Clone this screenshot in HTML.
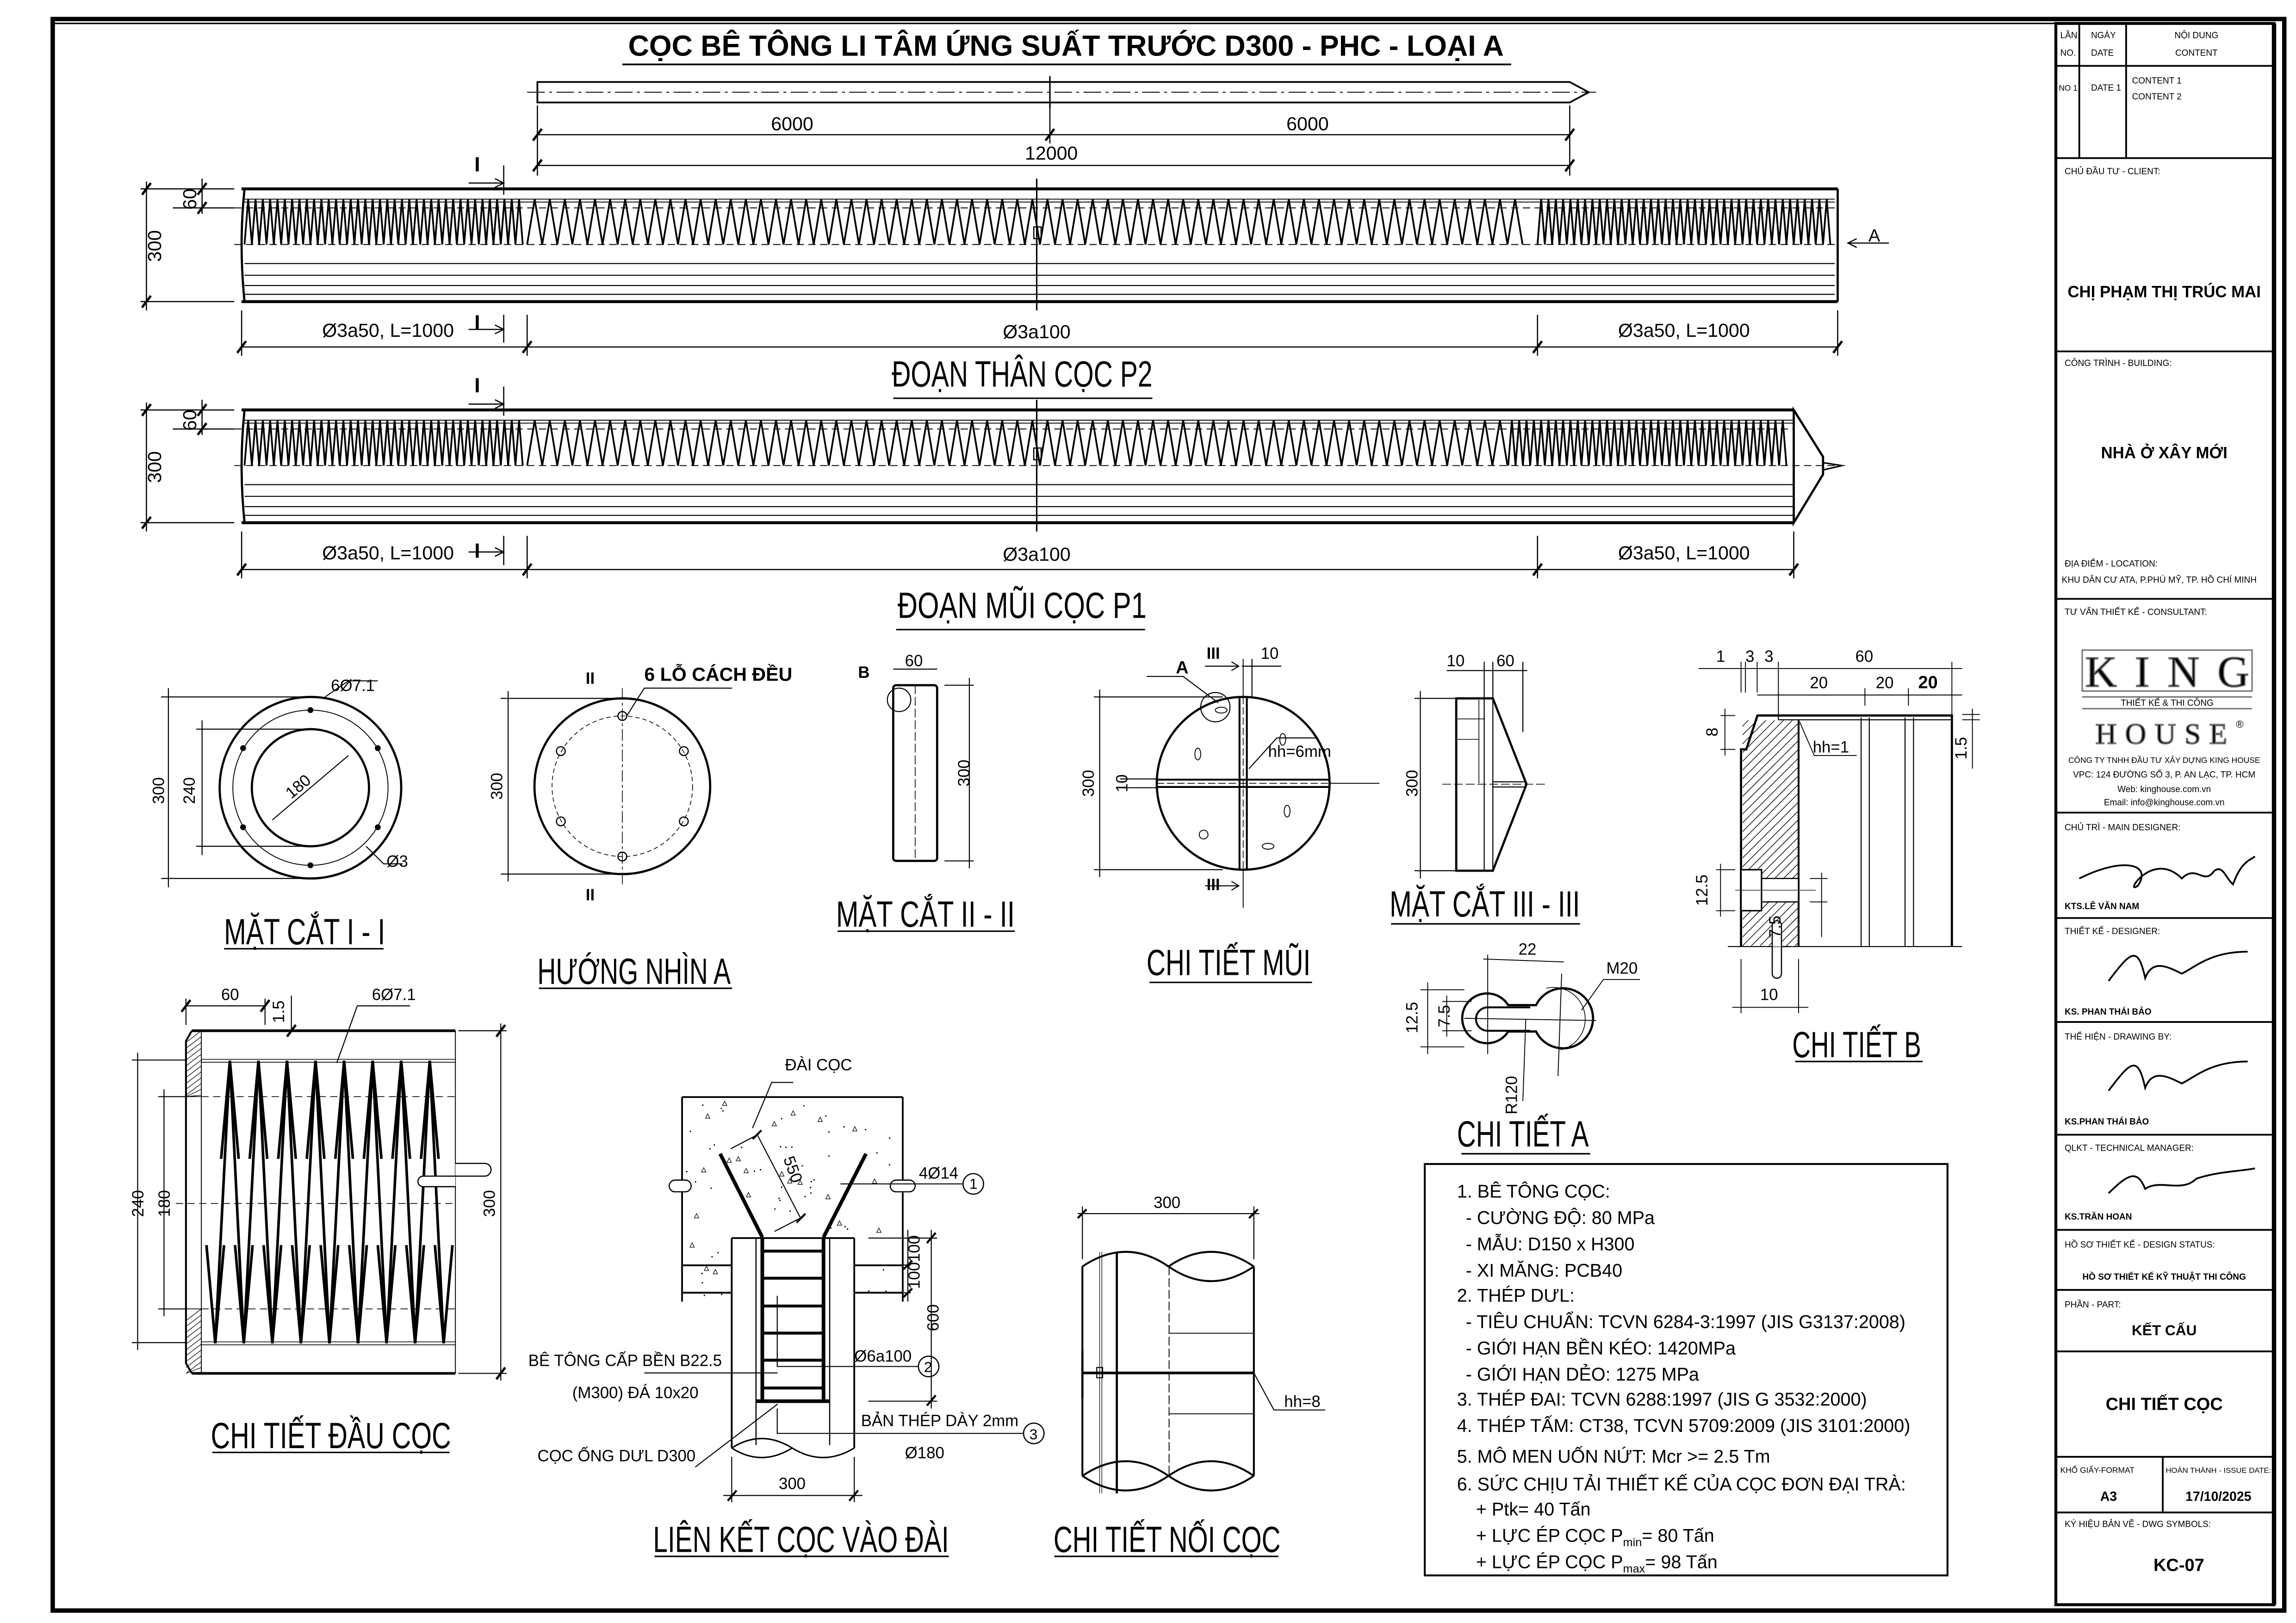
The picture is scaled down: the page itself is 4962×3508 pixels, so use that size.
<!DOCTYPE html>
<html><head><meta charset="utf-8"><style>
html,body{margin:0;padding:0;background:#fff}
svg{display:block}
text{font-family:"Liberation Sans Narrow","Liberation Sans",sans-serif;fill:#000}
.b{font-family:"Liberation Sans",sans-serif}
</style></head><body>
<svg id="s" xmlns="http://www.w3.org/2000/svg" width="4962" height="3508" viewBox="0 0 1568 1108.5" preserveAspectRatio="none">
<rect x="0" y="0" width="1568" height="1108.5" fill="#fff"/>
<g fill="none" stroke="#000">
<rect x="36" y="13" width="1524" height="1087" stroke-width="3"/>
<line x1="36" y1="16" x2="1404" y2="16" stroke-width="1"/>
<rect x="1404" y="16" width="149" height="1080" stroke-width="2"/>
<line x1="1553" y1="16" x2="1553" y2="1096" stroke-width="3"/>
<g stroke-width="1.2">
<line x1="1404" y1="45" x2="1553" y2="45"/>
<line x1="1420" y1="16" x2="1420" y2="108"/>
<line x1="1452" y1="16" x2="1452" y2="108"/>
<line x1="1404" y1="108" x2="1553" y2="108"/>
<line x1="1404" y1="240" x2="1553" y2="240"/>
<line x1="1404" y1="409" x2="1553" y2="409"/>
<line x1="1404" y1="555" x2="1553" y2="555"/>
<line x1="1404" y1="627" x2="1553" y2="627"/>
<line x1="1404" y1="698" x2="1553" y2="698"/>
<line x1="1404" y1="775" x2="1553" y2="775"/>
<line x1="1404" y1="840" x2="1553" y2="840"/>
<line x1="1404" y1="881" x2="1553" y2="881"/>
<line x1="1404" y1="923" x2="1553" y2="923"/>
<line x1="1404" y1="995" x2="1553" y2="995"/>
<line x1="1477" y1="995" x2="1477" y2="1033"/>
<line x1="1404" y1="1033" x2="1553" y2="1033"/>
</g>
<line x1="425" y1="44" x2="1032" y2="44" stroke-width="1.2"/>
<path d="M367 56 H1072 L1085 63 L1072 70 H367 Z" stroke-width="1.2"/>
<line x1="360" y1="63" x2="1090" y2="63" stroke-width="0.6" stroke-dasharray="12 3 2 3"/>
<line x1="717" y1="52" x2="717" y2="74" stroke-width="1"/>
<line x1="367" y1="92" x2="1072" y2="92" stroke-width="0.8"/>
<line x1="367" y1="113" x2="1072" y2="113" stroke-width="0.8"/>
<g stroke-width="0.8"><line x1="367" y1="72" x2="367" y2="120"/><line x1="717" y1="72" x2="717" y2="98"/><line x1="1072" y1="72" x2="1072" y2="120"/></g>
<g stroke-width="1.6"><line x1="364" y1="96" x2="370" y2="88"/><line x1="714" y1="96" x2="720" y2="88"/><line x1="1069" y1="96" x2="1075" y2="88"/><line x1="364" y1="117" x2="370" y2="109"/><line x1="1069" y1="117" x2="1075" y2="109"/></g>
<!-- P2 -->
<line x1="165" y1="129" x2="1255" y2="129" stroke-width="2"/>
<line x1="165" y1="206" x2="1255" y2="206" stroke-width="2"/>
<path d="M167 129 Q163 167 167 206" stroke-width="1.5"/>
<line x1="1255" y1="129" x2="1255" y2="206" stroke-width="1.5"/>
<line x1="167" y1="136" x2="1253" y2="136" stroke-width="0.6"/>
<line x1="167" y1="138" x2="1253" y2="138" stroke-width="0.6"/>
<line x1="160" y1="142" x2="1253" y2="142" stroke-width="0.6" stroke-dasharray="5 3"/>
<line x1="160" y1="167" x2="1253" y2="167" stroke-width="0.6" stroke-dasharray="5 3"/>
<line x1="167" y1="180" x2="1253" y2="180" stroke-width="0.7"/>
<line x1="167" y1="188" x2="1253" y2="188" stroke-width="0.7"/>
<line x1="167" y1="195" x2="1253" y2="195" stroke-width="0.7"/>
<line x1="167" y1="201" x2="1253" y2="201" stroke-width="0.7"/>
<line x1="708" y1="122" x2="708" y2="212" stroke-width="1"/>
<rect x="706" y="155" width="5" height="8" stroke-width="0.8"/>
<g stroke-width="0.8">
<line x1="96" y1="129" x2="160" y2="129"/><line x1="96" y1="206" x2="160" y2="206"/><line x1="118" y1="142" x2="160" y2="142"/>
<line x1="100" y1="124" x2="100" y2="212"/><line x1="138" y1="122" x2="138" y2="146"/>
<line x1="165" y1="237" x2="1255" y2="237"/>
<line x1="165" y1="212" x2="165" y2="243"/><line x1="360" y1="215" x2="360" y2="243"/><line x1="1050" y1="215" x2="1050" y2="243"/><line x1="1255" y1="212" x2="1255" y2="243"/>
<line x1="344" y1="113" x2="344" y2="133"/><line x1="344" y1="215" x2="344" y2="234"/>
<path d="M320 125 H344 M338 122 L344 125 L338 128"/><path d="M320 225 H344 M338 222 L344 225 L338 228"/>
<path d="M1262 166 H1290 M1268 163 L1262 166 L1268 169"/>
</g>
<g stroke-width="1.6"><line x1="97" y1="133" x2="103" y2="125"/><line x1="97" y1="210" x2="103" y2="202"/><line x1="135" y1="133" x2="141" y2="125"/><line x1="135" y1="146" x2="141" y2="138"/>
<line x1="162" y1="241" x2="168" y2="233"/><line x1="357" y1="241" x2="363" y2="233"/><line x1="1047" y1="241" x2="1053" y2="233"/><line x1="1252" y1="241" x2="1258" y2="233"/></g>
<!-- P1 -->
<line x1="165" y1="280" x2="1225" y2="280" stroke-width="2"/>
<line x1="165" y1="357" x2="1225" y2="357" stroke-width="2"/>
<path d="M167 280 Q163 318 167 357" stroke-width="1.5"/>
<path d="M1225 280 L1245 312 L1245 324 L1225 357 Z" stroke-width="1.5"/>
<path d="M1245 316 L1258 318 L1245 321" stroke-width="1"/>
<line x1="167" y1="287" x2="1225" y2="287" stroke-width="0.6"/>
<line x1="167" y1="289" x2="1225" y2="289" stroke-width="0.6"/>
<line x1="160" y1="293" x2="1225" y2="293" stroke-width="0.6" stroke-dasharray="5 3"/>
<line x1="160" y1="318" x2="1260" y2="318" stroke-width="0.6" stroke-dasharray="5 3"/>
<line x1="167" y1="331" x2="1225" y2="331" stroke-width="0.7"/>
<line x1="167" y1="339" x2="1225" y2="339" stroke-width="0.7"/>
<line x1="167" y1="346" x2="1225" y2="346" stroke-width="0.7"/>
<line x1="167" y1="352" x2="1225" y2="352" stroke-width="0.7"/>
<line x1="708" y1="273" x2="708" y2="363" stroke-width="1"/>
<rect x="706" y="306" width="5" height="8" stroke-width="0.8"/>
<g stroke-width="0.8">
<line x1="96" y1="280" x2="160" y2="280"/><line x1="96" y1="357" x2="160" y2="357"/><line x1="118" y1="293" x2="160" y2="293"/>
<line x1="100" y1="275" x2="100" y2="363"/><line x1="138" y1="273" x2="138" y2="297"/>
<line x1="165" y1="389" x2="1225" y2="389"/>
<line x1="165" y1="363" x2="165" y2="395"/><line x1="360" y1="366" x2="360" y2="395"/><line x1="1050" y1="366" x2="1050" y2="395"/><line x1="1225" y1="363" x2="1225" y2="395"/>
<line x1="344" y1="264" x2="344" y2="284"/><line x1="344" y1="366" x2="344" y2="386"/>
<path d="M320 276 H344 M338 273 L344 276 L338 279"/><path d="M320 377 H344 M338 374 L344 377 L338 380"/>
</g>
<g stroke-width="1.6"><line x1="97" y1="284" x2="103" y2="276"/><line x1="97" y1="361" x2="103" y2="353"/><line x1="135" y1="284" x2="141" y2="276"/><line x1="135" y1="297" x2="141" y2="289"/>
<line x1="162" y1="393" x2="168" y2="385"/><line x1="357" y1="393" x2="363" y2="385"/><line x1="1047" y1="393" x2="1053" y2="385"/><line x1="1222" y1="393" x2="1228" y2="385"/></g>
<line x1="610" y1="272" x2="787" y2="272" stroke-width="1"/>
<line x1="612" y1="430" x2="782" y2="430" stroke-width="1"/>

<!-- Mat cat I-I -->
<circle cx="212" cy="538" r="62" stroke-width="1.5"/>
<circle cx="212" cy="538" r="40" stroke-width="1.5"/>
<circle cx="212" cy="538" r="53" stroke-width="0.6"/>
<g fill="#000" stroke="none"><circle cx="212" cy="485" r="2"/><circle cx="258" cy="511" r="2"/><circle cx="258" cy="565" r="2"/><circle cx="212" cy="591" r="2"/><circle cx="166" cy="565" r="2"/><circle cx="166" cy="511" r="2"/></g>
<line x1="186" y1="560" x2="238" y2="516" stroke-width="0.7"/>
<g stroke-width="0.7"><line x1="110" y1="476" x2="212" y2="476"/><line x1="110" y1="600" x2="212" y2="600"/><line x1="115" y1="470" x2="115" y2="606"/>
<line x1="134" y1="498" x2="212" y2="498"/><line x1="134" y1="578" x2="212" y2="578"/><line x1="138" y1="492" x2="138" y2="584"/>
<path d="M222 476 L238 465 H258"/><path d="M250 578 L262 590 H275"/></g>
<line x1="153" y1="648" x2="262" y2="648" stroke-width="1"/>
<!-- Huong nhin A -->
<circle cx="425" cy="537" r="60" stroke-width="1.5"/>
<circle cx="425" cy="537" r="48" stroke-width="0.5" stroke-dasharray="3 2"/>
<g stroke-width="0.8"><circle cx="425" cy="489" r="3"/><circle cx="467" cy="513" r="3"/><circle cx="467" cy="561" r="3"/><circle cx="425" cy="585" r="3"/><circle cx="383" cy="561" r="3"/><circle cx="383" cy="513" r="3"/></g>
<line x1="425" y1="470" x2="425" y2="604" stroke-width="0.5" stroke-dasharray="8 2 2 2"/>
<g stroke-width="0.7"><line x1="342" y1="477" x2="425" y2="477"/><line x1="342" y1="597" x2="425" y2="597"/><line x1="347" y1="472" x2="347" y2="602"/><path d="M428 489 L440 470 H500"/></g>
<line x1="368" y1="675" x2="500" y2="675" stroke-width="1"/>
<!-- Mat cat II-II -->
<rect x="610" y="468" width="30" height="120" rx="2" stroke-width="1.5"/>
<line x1="625" y1="468" x2="625" y2="588" stroke-width="0.5" stroke-dasharray="6 2"/>
<circle cx="614" cy="478" r="8" stroke-width="0.7"/>
<g stroke-width="0.7"><line x1="610" y1="457" x2="640" y2="457"/><line x1="645" y1="468" x2="665" y2="468"/><line x1="645" y1="588" x2="665" y2="588"/><line x1="662" y1="463" x2="662" y2="593"/></g>
<line x1="572" y1="636" x2="693" y2="636" stroke-width="1"/>
<!-- Chi tiet mui -->
<circle cx="849" cy="535" r="59" stroke-width="1.5"/>
<rect x="790" y="532.5" width="118" height="5" stroke-width="1.3"/>
<rect x="846.5" y="476" width="5" height="118" stroke-width="1.3"/>
<line x1="790" y1="535" x2="908" y2="535" stroke-width="0.5" stroke-dasharray="5 2"/>
<line x1="849" y1="476" x2="849" y2="594" stroke-width="0.5" stroke-dasharray="5 2"/>
<line x1="908" y1="535" x2="942" y2="535" stroke-width="0.6"/>
<line x1="849" y1="594" x2="849" y2="620" stroke-width="0.6"/>
<line x1="849" y1="450" x2="849" y2="476" stroke-width="0.6"/>
<circle cx="830" cy="483" r="10" stroke-width="0.7"/>
<g stroke-width="0.6"><ellipse cx="834" cy="485" rx="4" ry="2"/><ellipse cx="876" cy="505" rx="2" ry="4"/><ellipse cx="818" cy="515" rx="2" ry="4"/><ellipse cx="879" cy="554" rx="2" ry="4"/><ellipse cx="822" cy="570" rx="3" ry="3"/><ellipse cx="866" cy="578" rx="4" ry="2"/></g>
<g stroke-width="0.7"><line x1="747" y1="476" x2="835" y2="476"/><line x1="747" y1="594" x2="835" y2="594"/><line x1="751" y1="471" x2="751" y2="599"/>
<line x1="848" y1="455" x2="875" y2="455"/><line x1="855" y1="450" x2="855" y2="476"/>
<path d="M823 455 H846 M841 452 L846 455 L841 458"/><path d="M823 605 H846 M841 602 L846 605 L841 608"/>
<path d="M783 462 H808 L832 480"/><path d="M853 525 L872 504 H900"/>
<line x1="765" y1="532" x2="790" y2="532"/><line x1="765" y1="538" x2="790" y2="538"/></g>
<line x1="785" y1="671" x2="896" y2="671" stroke-width="1"/>
<!-- Mat cat III-III -->
<path d="M994.5 477 H1019.5 L1042.5 535.6 L1019.5 594.7 H994.5 Z" stroke-width="1.5"/>
<line x1="1013.6" y1="477" x2="1013.6" y2="594.7" stroke-width="0.7"/>
<line x1="1019.5" y1="477" x2="1019.5" y2="594.7" stroke-width="0.7"/>
<line x1="1010" y1="478" x2="1010" y2="535" stroke-width="0.5"/>
<line x1="1019.5" y1="534" x2="1042" y2="534" stroke-width="0.7"/><line x1="1019.5" y1="537.5" x2="1042" y2="537.5" stroke-width="0.7"/>
<line x1="994.5" y1="491" x2="1014" y2="491" stroke-width="0.5"/>
<line x1="994.5" y1="505" x2="1010" y2="505" stroke-width="0.5"/>
<line x1="985" y1="535.6" x2="1055" y2="535.6" stroke-width="0.5" stroke-dasharray="6 2"/>
<g stroke-width="0.7"><line x1="966" y1="477" x2="994" y2="477"/><line x1="966" y1="594.7" x2="994" y2="594.7"/><line x1="970" y1="472" x2="970" y2="600"/>
<line x1="988" y1="458" x2="1043" y2="458"/><line x1="1013.6" y1="452" x2="1013.6" y2="477"/><line x1="1019.5" y1="452" x2="1019.5" y2="477"/><line x1="1040" y1="452" x2="1040" y2="500"/></g>
<line x1="950" y1="631" x2="1079" y2="631" stroke-width="1"/>
<!-- Chi tiet A -->
<path d="M1030 686.5 A17 17 0 1 0 1030 704.5 L1049 704.5 A20.5 20.5 0 1 0 1049 686.5 Z" stroke-width="1.5"/>
<path d="M1045 688 H1016 A8 8 0 0 0 1016 704 H1045" stroke-width="1.3"/>
<path d="M1056 675 A21.5 21.5 0 0 1 1066 717" stroke-width="0.5"/>
<g stroke-width="0.6"><line x1="1013" y1="655" x2="1068" y2="657"/><line x1="1016" y1="652" x2="1016" y2="720"/><line x1="1066.5" y1="665" x2="1064" y2="735"/>
<line x1="1000" y1="695.5" x2="1090" y2="697"/>
<line x1="970" y1="676" x2="1000" y2="676"/><line x1="970" y1="715" x2="1000" y2="715"/><line x1="975" y1="671" x2="975" y2="720"/>
<line x1="985" y1="684" x2="1005" y2="684"/><line x1="985" y1="704" x2="1005" y2="704"/><line x1="988" y1="680" x2="988" y2="708"/>
<path d="M1080 690 L1095 669 H1120"/><path d="M1042 696 L1040 752"/></g>
<line x1="998" y1="788" x2="1086" y2="788" stroke-width="1"/>
<!-- Chi tiet B -->
<path d="M1189 646.5 V511.8 H1192.6 L1200.2 488.7 H1333 V646.5" stroke-width="1.5"/>
<line x1="1180" y1="646.5" x2="1340" y2="646.5" stroke-width="0.7"/>
<line x1="1228.3" y1="491.6" x2="1228.3" y2="646.5" stroke-width="1.3"/>
<line x1="1214.5" y1="491.6" x2="1333" y2="491.6" stroke-width="0.7"/>
<line x1="1214.5" y1="488.7" x2="1214.5" y2="491.6" stroke-width="0.7"/>
<g stroke-width="0.7"><line x1="1271" y1="490" x2="1271" y2="646.5"/><line x1="1276.6" y1="490" x2="1276.6" y2="646.5"/><line x1="1301" y1="490" x2="1301" y2="646.5"/><line x1="1306.8" y1="490" x2="1306.8" y2="646.5"/></g>
<g id="hatch" stroke-width="0.45"></g>
<rect x="1189" y="594" width="14" height="28" fill="#fff" stroke-width="1"/>
<rect x="1203.5" y="600.5" width="24.3" height="15" fill="#fff" stroke="none"/>
<path d="M1203 600 H1228.3 M1203 616 H1228.3" stroke-width="0.8"/>
<line x1="1185" y1="608" x2="1240" y2="608" stroke-width="0.4"/>
<path d="M1210.3 646.5 V632 A3.1 3.1 0 0 1 1216.6 632 V646.5" fill="#fff" stroke-width="0.8"/>
<path d="M1216.6 646.5 H1222 M1216.6 646.5 V665 A3.1 3.1 0 0 1 1210.3 665 V646.5" stroke-width="0.8"/>
<g stroke-width="0.6"><line x1="1160" y1="456.6" x2="1340" y2="456.6"/><line x1="1200" y1="474.7" x2="1340" y2="474.7"/>
<line x1="1189" y1="452" x2="1189" y2="473"/><line x1="1192" y1="452" x2="1192" y2="473"/><line x1="1200" y1="452" x2="1200" y2="473"/><line x1="1214.5" y1="452" x2="1214.5" y2="488"/><line x1="1333" y1="452" x2="1333" y2="488"/><line x1="1273.6" y1="470" x2="1273.6" y2="482"/><line x1="1303.3" y1="470" x2="1303.3" y2="482"/>
<line x1="1175" y1="488.7" x2="1185" y2="488.7"/><line x1="1175" y1="511.8" x2="1185" y2="511.8"/><line x1="1178" y1="484" x2="1178" y2="516"/>
<line x1="1172" y1="594" x2="1185" y2="594"/><line x1="1172" y1="622" x2="1185" y2="622"/><line x1="1175" y1="590" x2="1175" y2="626"/>
<line x1="1236" y1="600" x2="1248" y2="600"/><line x1="1236" y1="616" x2="1248" y2="616"/><line x1="1244" y1="596" x2="1244" y2="640"/>
<line x1="1189" y1="655" x2="1189" y2="692"/><line x1="1228.3" y1="655" x2="1228.3" y2="692"/><line x1="1183" y1="688" x2="1235" y2="688"/>
<line x1="1340" y1="488" x2="1352" y2="488"/><line x1="1340" y1="491.6" x2="1352" y2="491.6"/><line x1="1347" y1="484" x2="1347" y2="525"/>
<path d="M1229 493 L1239 516 H1268"/></g>
<line x1="1226" y1="725" x2="1313" y2="725" stroke-width="1"/>
<!-- Chi tiet dau coc -->
<line x1="131" y1="704" x2="311" y2="704" stroke-width="1.8"/>
<line x1="131" y1="938" x2="311" y2="938" stroke-width="1.8"/>
<path d="M131 704 L127 711 L127 931 L131 938" stroke-width="1.3"/>
<line x1="137.5" y1="704" x2="137.5" y2="938" stroke-width="0.6"/>
<line x1="311" y1="704" x2="311" y2="938" stroke-width="0.6"/>
<g id="headhatch" stroke-width="0.4"></g>
<line x1="127" y1="749" x2="137.5" y2="749" stroke-width="0.5"/><line x1="127" y1="894" x2="137.5" y2="894" stroke-width="0.5"/>
<line x1="137.5" y1="723.5" x2="311" y2="723.5" stroke-width="0.5"/><line x1="137.5" y1="725.5" x2="311" y2="725.5" stroke-width="0.5"/>
<line x1="137.5" y1="916.5" x2="311" y2="916.5" stroke-width="0.5"/><line x1="137.5" y1="918.5" x2="311" y2="918.5" stroke-width="0.5"/>
<line x1="137.5" y1="749" x2="311" y2="749" stroke-width="0.5" stroke-dasharray="5 3"/>
<line x1="120" y1="822" x2="311" y2="822" stroke-width="0.5" stroke-dasharray="5 3"/>
<line x1="137.5" y1="894" x2="311" y2="894" stroke-width="0.5" stroke-dasharray="5 3"/>
<g id="headzz" stroke-width="1.8"></g>
<path d="M311 794.6 H331 A4.3 4.3 0 0 1 331 803.3 H311" fill="#fff" stroke-width="0.8"/>
<path d="M311 803.3 H289 A3.6 3.6 0 0 0 289 810.5 H311" fill="#fff" stroke-width="0.8"/>
<g stroke-width="0.7"><line x1="90" y1="724" x2="127" y2="724"/><line x1="90" y1="917" x2="127" y2="917"/><line x1="94" y1="719" x2="94" y2="922"/>
<line x1="108" y1="749" x2="127" y2="749"/><line x1="108" y1="894" x2="127" y2="894"/><line x1="112" y1="744" x2="112" y2="899"/>
<line x1="313" y1="704" x2="346" y2="704"/><line x1="313" y1="938" x2="346" y2="938"/><line x1="342" y1="699" x2="342" y2="943"/>
<line x1="127" y1="687" x2="181" y2="687"/><line x1="127" y1="682" x2="127" y2="700"/><line x1="181" y1="682" x2="181" y2="700"/><line x1="199" y1="680" x2="199" y2="704"/>
<path d="M230 726 L244 687 H280"/></g>
<g stroke-width="1.6"><line x1="124" y1="691" x2="130" y2="683"/><line x1="178" y1="691" x2="184" y2="683"/><line x1="339" y1="708" x2="345" y2="700"/><line x1="339" y1="942" x2="345" y2="934"/><line x1="196" y1="708" x2="202" y2="700"/></g>
<line x1="145" y1="992" x2="307" y2="992" stroke-width="1"/>
<!-- Lien ket coc vao dai -->
<g stroke-width="1.2">
<line x1="465.8" y1="749.3" x2="616.5" y2="749.3"/>
<line x1="465.8" y1="749.3" x2="465.8" y2="806"/><line x1="465.8" y1="814" x2="465.8" y2="889"/>
<line x1="616.5" y1="749.3" x2="616.5" y2="806"/><line x1="616.5" y1="814" x2="616.5" y2="889"/>
<line x1="465.8" y1="864.2" x2="499.7" y2="864.2"/><line x1="465.8" y1="882.9" x2="499.7" y2="882.9"/>
<line x1="583.4" y1="864.2" x2="616.5" y2="864.2"/><line x1="583.4" y1="882.9" x2="616.5" y2="882.9"/>
<line x1="499.7" y1="845.6" x2="583.4" y2="845.6"/>
<line x1="499.7" y1="845.6" x2="499.7" y2="989"/><line x1="583.4" y1="845.6" x2="583.4" y2="989"/>
</g>
<path d="M461 806 H468 A4 4 0 0 1 468 814 H461 A4 4 0 0 1 461 806" stroke-width="0.8"/>
<path d="M612 806 H621 A4 4 0 0 1 621 814 H612 A4 4 0 0 1 612 806" stroke-width="0.8"/>
<line x1="516.3" y1="845.6" x2="516.3" y2="987" stroke-width="0.8"/><line x1="566.6" y1="845.6" x2="566.6" y2="987" stroke-width="0.8"/>
<path d="M499.7 989 Q520 976 541 989 Q562 1002 583.4 989" stroke-width="1"/>
<path d="M499.7 989 Q520 1002 541 989" stroke-width="1"/>
<g stroke-width="2.5"><line x1="491.8" y1="788" x2="520.6" y2="845"/><line x1="591.4" y1="788" x2="562.4" y2="845"/>
<line x1="520.6" y1="845" x2="520.6" y2="957"/><line x1="562.4" y1="845" x2="562.4" y2="957"/>
<line x1="516.3" y1="957" x2="566.6" y2="957"/></g>
<g stroke-width="2"><line x1="521" y1="854.5" x2="562" y2="854.5"/><line x1="521" y1="873" x2="562" y2="873"/><line x1="521" y1="892" x2="562" y2="892"/><line x1="521" y1="910.5" x2="562" y2="910.5"/><line x1="521" y1="929" x2="562" y2="929"/><line x1="521" y1="948" x2="562" y2="948"/></g>
<g stroke-width="0.7">
<path d="M574 808.6 H657.7"/>
<path d="M541.7 739.3 H527 L513.9 770.5"/>
<line x1="517.2" y1="775.1" x2="546.7" y2="831.9"/><line x1="499" y1="784.6" x2="517.2" y2="775.1"/><line x1="529" y1="841" x2="546.7" y2="831.9"/>
<line x1="593" y1="845.6" x2="640" y2="845.6"/><line x1="593" y1="957" x2="640" y2="957"/><line x1="636" y1="840" x2="636" y2="962"/>
<line x1="593" y1="864" x2="622" y2="864"/><line x1="593" y1="883" x2="622" y2="883"/><line x1="620" y1="840" x2="620" y2="889"/>
<path d="M530.8 885 V933.3 H627"/><path d="M530.8 962 V979 H699"/>
<path d="M440 937.7 H531"/><path d="M474.8 1002 L531 959"/>
<line x1="499.7" y1="995" x2="499.7" y2="1026"/><line x1="583.4" y1="995" x2="583.4" y2="1026"/><line x1="494" y1="1021.4" x2="589" y2="1021.4"/>
</g>
<g stroke-width="1.4"><line x1="633" y1="849" x2="639" y2="842"/><line x1="633" y1="960" x2="639" y2="953"/><line x1="617" y1="867" x2="623" y2="861"/><line x1="617" y1="886" x2="623" y2="880"/><line x1="497" y1="1025" x2="503" y2="1018"/><line x1="580" y1="1025" x2="586" y2="1018"/><line x1="514" y1="778" x2="520" y2="772"/><line x1="544" y1="835" x2="550" y2="829"/></g>
<circle cx="664.7" cy="808.6" r="7" stroke-width="0.8"/>
<circle cx="634.2" cy="933.3" r="7" stroke-width="0.8"/>
<circle cx="706" cy="979" r="7" stroke-width="0.8"/>
<line x1="447" y1="1063" x2="648" y2="1063" stroke-width="1"/>
<!-- Chi tiet noi coc -->
<g stroke-width="1.3">
<line x1="739.2" y1="865" x2="739.2" y2="1008"/><line x1="856.3" y1="865" x2="856.3" y2="1008"/>
<path d="M739.2 865 Q769 845 798 865 Q827 845 856.3 865"/>
<path d="M798 865 Q827 885 856.3 865"/>
<path d="M739.2 1008 Q769 988 798 1008 Q827 988 856.3 1008"/>
<path d="M739.2 1008 Q769 1028 798 1008 Q827 1028 856.3 1008"/>
<line x1="739.2" y1="937.7" x2="856.3" y2="937.7" stroke-width="1.8"/>
</g>
<line x1="762.7" y1="855" x2="762.7" y2="1020" stroke-width="1.5"/>
<line x1="798.4" y1="865" x2="798.4" y2="1008" stroke-width="0.6" stroke-dasharray="6 2"/>
<line x1="751" y1="855" x2="751" y2="1020" stroke-width="0.4"/>
<line x1="752.5" y1="855" x2="752.5" y2="1020" stroke-width="0.4"/>
<line x1="798.4" y1="910.6" x2="856.3" y2="910.6" stroke-width="0.6"/><line x1="798.4" y1="965.6" x2="856.3" y2="965.6" stroke-width="0.6"/>
<rect x="749" y="934" width="4" height="7" stroke-width="0.7"/>
<line x1="739.2" y1="922" x2="739.2" y2="955" stroke-width="1.5"/>
<g stroke-width="0.7"><line x1="736" y1="828.9" x2="860" y2="828.9"/><line x1="739.2" y1="824" x2="739.2" y2="860"/><line x1="856.3" y1="824" x2="856.3" y2="860"/><path d="M856.3 937.7 L870 963 H905"/></g>
<g stroke-width="1.4"><line x1="736" y1="832" x2="742" y2="826"/><line x1="853" y1="832" x2="859" y2="826"/></g>
<line x1="720" y1="1063" x2="873" y2="1063" stroke-width="1"/>
<rect x="973" y="795" width="357" height="281" stroke-width="1.3"/>
</g>

<!-- TEXT -->
<text x="728" y="38" text-anchor="middle" class="b" font-size="20" font-weight="bold" textLength="598" lengthAdjust="spacingAndGlyphs">CỌC BÊ TÔNG LI TÂM ỨNG SUẤT TRƯỚC D300 - PHC - LOẠI A</text>
<g font-size="13" text-anchor="middle">
<text x="541" y="89" class="b">6000</text><text x="893" y="89" class="b">6000</text><text x="718" y="109" class="b">12000</text>
</g>
<g font-size="13">
<text x="265" y="230" text-anchor="middle" class="b">Ø3a50, L=1000</text><text x="708" y="231" text-anchor="middle" class="b">Ø3a100</text><text x="1150" y="230" text-anchor="middle" class="b">Ø3a50, L=1000</text>
<text x="265" y="382" text-anchor="middle" class="b">Ø3a50, L=1000</text><text x="708" y="383" text-anchor="middle" class="b">Ø3a100</text><text x="1150" y="382" text-anchor="middle" class="b">Ø3a50, L=1000</text>
<text transform="translate(110 168) rotate(-90)" text-anchor="middle" class="b">300</text>
<text transform="translate(134 136) rotate(-90)" text-anchor="middle" class="b">60</text>
<text transform="translate(110 319) rotate(-90)" text-anchor="middle" class="b">300</text>
<text transform="translate(134 287) rotate(-90)" text-anchor="middle" class="b">60</text>
<text x="1276" y="165" class="b" font-size="12">A</text>
</g>
<g font-size="14" font-weight="bold"><text x="324" y="117" class="b">I</text><text x="324" y="225" class="b">I</text><text x="324" y="268" class="b">I</text><text x="324" y="381" class="b">I</text></g>
<text x="698" y="264" text-anchor="middle" font-size="25" textLength="178" lengthAdjust="spacingAndGlyphs">ĐOẠN THÂN CỌC P2</text>
<text x="698" y="422" text-anchor="middle" font-size="25" textLength="170" lengthAdjust="spacingAndGlyphs">ĐOẠN MŨI CỌC P1</text>

<g font-size="11">
<text transform="translate(112 540) rotate(-90)" text-anchor="middle">300</text>
<text transform="translate(133 540) rotate(-90)" text-anchor="middle">240</text>
<text transform="translate(206 540) rotate(-40)" text-anchor="middle">180</text>
<text x="226" y="472" fill="#666">6Ø7.1</text><text x="264" y="592" fill="#666">Ø3</text>
<text transform="translate(343 537) rotate(-90)" text-anchor="middle">300</text>
<text x="400" y="467" font-weight="bold">II</text><text x="400" y="615" font-weight="bold">II</text>
<text x="618" y="455">60</text><text x="586" y="463" font-weight="bold">B</text>
<text transform="translate(662 528) rotate(-90)" text-anchor="middle">300</text>
<text x="824" y="450" font-weight="bold">III</text><text x="824" y="608" font-weight="bold">III</text>
<text x="861" y="450">10</text><text x="803" y="460" font-weight="bold" font-size="12">A</text>
<text transform="translate(747 535) rotate(-90)" text-anchor="middle">300</text>
<text transform="translate(770 535) rotate(-90)" text-anchor="middle">10</text>
<text x="866" y="517" fill="#666">hh=6mm</text>
<text x="988" y="455">10</text><text x="1022" y="455">60</text>
<text transform="translate(968 535) rotate(-90)" text-anchor="middle">300</text>
<text x="1037" y="652">22</text><text x="1097" y="665" fill="#666">M20</text>
<text transform="translate(1036 748) rotate(-90)" text-anchor="middle" fill="#666">R120</text>
<text transform="translate(968 695) rotate(-90)" text-anchor="middle">12.5</text>
<text transform="translate(990 694) rotate(-90)" text-anchor="middle">7.5</text>
<text x="1172" y="452">1</text><text x="1192" y="452">3</text><text x="1205" y="452">3</text><text x="1267" y="452">60</text>
<text x="1236" y="470">20</text><text x="1281" y="470">20</text><text x="1310" y="470" font-size="12" font-weight="bold">20</text>
<text transform="translate(1173 500) rotate(-90)" text-anchor="middle">8</text>
<text transform="translate(1343 511) rotate(-90)" text-anchor="middle">1.5</text>
<text transform="translate(1166 608) rotate(-90)" text-anchor="middle">12.5</text>
<text transform="translate(1216 633) rotate(-90)" text-anchor="middle">7.5</text>
<text x="1202" y="683">10</text><text x="1238" y="514" fill="#666">hh=1</text>
<text transform="translate(98 822) rotate(-90)" text-anchor="middle">240</text>
<text transform="translate(116 822) rotate(-90)" text-anchor="middle">180</text>
<text transform="translate(338 822) rotate(-90)" text-anchor="middle">300</text>
<text x="151" y="683">60</text><text transform="translate(194 691) rotate(-90)" text-anchor="middle">1.5</text>
<text x="254" y="683" fill="#666">6Ø7.1</text>
<text x="559" y="731" text-anchor="middle">ĐÀI CỌC</text>
<text transform="translate(538 800) rotate(70)" text-anchor="middle">550</text>
<text x="641" y="805" text-anchor="middle">4Ø14</text><text x="662" y="812" font-size="10">1</text>
<text transform="translate(628 862) rotate(-90)" text-anchor="middle">100100</text>
<text transform="translate(641 900) rotate(-90)" text-anchor="middle">600</text>
<text x="603" y="930" text-anchor="middle">Ø6a100</text><text x="631" y="937" font-size="10">2</text>
<text x="493" y="933" text-anchor="end">BÊ TÔNG CẤP BỀN B22.5</text>
<text x="477" y="955" text-anchor="end">(M300) ĐÁ 10x20</text>
<text x="588" y="974">BẢN THÉP DÀY 2mm</text><text x="703" y="983" font-size="10">3</text>
<text x="618" y="996">Ø180</text>
<text x="475" y="998" text-anchor="end">CỌC ỐNG DƯL D300</text>
<text x="541" y="1017" text-anchor="middle">300</text>
<text x="797" y="825" text-anchor="middle">300</text><text x="877" y="961" fill="#666">hh=8</text>
</g>
<text x="440" y="465" font-size="13" font-weight="bold" class="b">6 LỖ CÁCH ĐỀU</text>
<g font-size="25">
<text x="208" y="645" text-anchor="middle" textLength="110" lengthAdjust="spacingAndGlyphs">MẶT CẮT I - I</text>
<text x="433" y="672" text-anchor="middle" textLength="132" lengthAdjust="spacingAndGlyphs">HƯỚNG NHÌN A</text>
<text x="632" y="633" text-anchor="middle" textLength="122" lengthAdjust="spacingAndGlyphs">MẶT CẮT  II - II</text>
<text x="839" y="666" text-anchor="middle" textLength="112" lengthAdjust="spacingAndGlyphs">CHI  TIẾT MŨI</text>
<text x="1014" y="626" text-anchor="middle" textLength="130" lengthAdjust="spacingAndGlyphs">MẶT CẮT  III - III</text>
<text x="1040" y="783" text-anchor="middle" textLength="90" lengthAdjust="spacingAndGlyphs">CHI  TIẾT A</text>
<text x="1268" y="722" text-anchor="middle" textLength="88" lengthAdjust="spacingAndGlyphs">CHI  TIẾT B</text>
<text x="226" y="989" text-anchor="middle" textLength="164" lengthAdjust="spacingAndGlyphs">CHI  TIẾT ĐẦU CỌC</text>
<text x="547" y="1060" text-anchor="middle" textLength="202" lengthAdjust="spacingAndGlyphs">LIÊN KẾT CỌC VÀO ĐÀI</text>
<text x="797" y="1060" text-anchor="middle" textLength="155" lengthAdjust="spacingAndGlyphs">CHI  TIẾT NỐI CỌC</text>
</g>
<g font-size="12.5">
<text x="995" y="818" class="b">1.   BÊ TÔNG CỌC:</text>
<text x="1001" y="836" class="b">- CƯỜNG ĐỘ: 80 MPa</text>
<text x="1001" y="854" class="b">- MẪU: D150 x H300</text>
<text x="1001" y="872" class="b">- XI MĂNG: PCB40</text>
<text x="995" y="889" class="b">2.  THÉP DƯL:</text>
<text x="1001" y="907" class="b">- TIÊU CHUẨN: TCVN 6284-3:1997 (JIS G3137:2008)</text>
<text x="1001" y="925" class="b">- GIỚI HẠN BỀN KÉO: 1420MPa</text>
<text x="1001" y="943" class="b">- GIỚI HẠN DẺO: 1275 MPa</text>
<text x="995" y="960" class="b">3.  THÉP ĐAI: TCVN 6288:1997 (JIS G 3532:2000)</text>
<text x="995" y="978" class="b">4.  THÉP TẤM: CT38, TCVN 5709:2009 (JIS 3101:2000)</text>
<text x="995" y="999" class="b">5.  MÔ MEN UỐN NỨT: Mcr &gt;= 2.5 Tm</text>
<text x="995" y="1018" class="b">6.  SỨC CHỊU TẢI THIẾT KẾ CỦA CỌC ĐƠN ĐẠI TRÀ:</text>
<text x="1008" y="1035" class="b">+ Ptk= 40 Tấn</text>
<text x="1008" y="1053" class="b">+ LỰC ÉP CỌC P<tspan font-size="8" dy="3">min</tspan><tspan dy="-3">= 80 Tấn</tspan></text>
<text x="1008" y="1071" class="b">+ LỰC ÉP CỌC P<tspan font-size="8" dy="3">max</tspan><tspan dy="-3">= 98 Tấn</tspan></text>
</g>
<g font-size="6">
<text x="1407" y="26" class="b">LẦN</text><text x="1407" y="38" class="b">NO.</text>
<text x="1428" y="26" class="b">NGÀY</text><text x="1428" y="38" class="b">DATE</text>
<text x="1500" y="26" class="b" text-anchor="middle">NỘI DUNG</text><text x="1500" y="38" class="b" text-anchor="middle">CONTENT</text>
<text x="1406" y="62" class="b" font-size="5.5">NO 1</text><text x="1428" y="62" class="b">DATE 1</text>
<text x="1456" y="57" class="b">CONTENT 1</text><text x="1456" y="68" class="b">CONTENT 2</text>
<text x="1410" y="119" class="b">CHỦ ĐẦU TƯ - CLIENT:</text>
<text x="1410" y="250" class="b">CÔNG TRÌNH - BUILDING:</text>
<text x="1410" y="387" class="b">ĐỊA ĐIỂM - LOCATION:</text>
<text x="1408" y="398" class="b">KHU DÂN CƯ ATA, P.PHÚ MỸ, TP. HỒ CHÍ MINH</text>
<text x="1410" y="420" class="b">TƯ VẤN THIẾT KẾ - CONSULTANT:</text>
<text x="1410" y="567" class="b">CHỦ TRÌ - MAIN DESIGNER:</text>
<text x="1410" y="638" class="b">THIẾT KẾ - DESIGNER:</text>
<text x="1410" y="710" class="b">THỂ HIỆN - DRAWING BY:</text>
<text x="1410" y="786" class="b">QLKT - TECHNICAL MANAGER:</text>
<text x="1410" y="852" class="b">HỒ SƠ THIẾT KẾ - DESIGN STATUS:</text>
<text x="1410" y="893" class="b">PHẦN - PART:</text>
<text x="1407" y="1006" class="b" font-size="5.5">KHỔ GIẤY-FORMAT</text>
<text x="1479" y="1006" class="b" font-size="5" textLength="72" lengthAdjust="spacingAndGlyphs">HOÀN THÀNH - ISSUE DATE:</text>
<text x="1410" y="1043" class="b">KÝ HIỆU BẢN VẼ - DWG SYMBOLS:</text>
<text x="1478" y="521" class="b" text-anchor="middle" font-size="5.5">CÔNG TY TNHH ĐẦU TƯ XÂY DỰNG KING HOUSE</text>
<text x="1478" y="531" class="b" text-anchor="middle">VPC: 124 ĐƯỜNG SỐ 3, P. AN LẠC, TP. HCM</text>
<text x="1478" y="541" class="b" text-anchor="middle">Web: kinghouse.com.vn</text>
<text x="1478" y="550" class="b" text-anchor="middle">Email: info@kinghouse.com.vn</text>
<text x="1410" y="621" font-weight="bold" class="b">KTS.LÊ VĂN NAM</text>
<text x="1410" y="693" font-weight="bold" class="b">KS. PHAN THÁI BẢO</text>
<text x="1410" y="768" font-weight="bold" class="b">KS.PHAN THÁI BẢO</text>
<text x="1410" y="833" font-weight="bold" class="b">KS.TRẦN HOAN</text>
<text x="1478" y="874" font-weight="bold" class="b" text-anchor="middle">HỒ SƠ THIẾT KẾ KỸ THUẬT THI CÔNG</text>
</g>
<g font-weight="bold" text-anchor="middle">
<text x="1478" y="203" font-size="11" class="b">CHỊ PHẠM THỊ TRÚC MAI</text>
<text x="1478" y="313" font-size="11" class="b">NHÀ Ở XÂY MỚI</text>
<text x="1478" y="912" font-size="10" class="b">KẾT CẤU</text>
<text x="1478" y="963" font-size="12" class="b">CHI TIẾT CỌC</text>
<text x="1440" y="1025" font-size="9" class="b">A3</text>
<text x="1515" y="1025" font-size="9" class="b">17/10/2025</text>
<text x="1488" y="1073" font-size="12" class="b">KC-07</text>
</g>
<g fill="none" stroke="#777" stroke-width="1">
<rect x="1422" y="444" width="116" height="28"/>
<line x1="1422" y1="476" x2="1538" y2="476"/><line x1="1422" y1="484" x2="1538" y2="484"/>
</g>
<text x="1480" y="469" text-anchor="middle" font-size="30" fill="#fff" stroke="#777" stroke-width="0.8" textLength="112" style="font-family:'Liberation Serif',serif">KING</text>
<text x="1480" y="482" text-anchor="middle" font-size="6" fill="#777" class="b">THIẾT KẾ &amp; THI CÔNG</text>
<text x="1476" y="508" text-anchor="middle" font-size="20" fill="#fff" stroke="#777" stroke-width="0.8" style="font-family:'Liberation Serif',serif" textLength="90">HOUSE</text>
<text x="1527" y="497" font-size="7" class="b">®</text>
<g fill="none" stroke="#000" stroke-width="1.2">
<path d="M1420 600 C1450 585 1470 590 1460 605 C1450 612 1470 580 1490 600 C1500 590 1505 605 1512 595 C1518 590 1520 600 1525 604 C1530 590 1535 588 1540 585"/>
<path d="M1440 670 C1455 650 1460 645 1465 668 C1470 655 1480 660 1490 665 C1500 660 1510 650 1535 650"/>
<path d="M1440 745 C1455 725 1460 720 1465 743 C1470 730 1480 735 1490 740 C1500 735 1510 725 1535 725"/>
<path d="M1440 815 C1455 800 1460 800 1465 812 C1475 805 1490 815 1500 805 C1515 800 1530 800 1540 798"/>
</g>
<script>
(function(){
var NS="http://www.w3.org/2000/svg",s=document.getElementById('s');
function P(d,w,par){var e=document.createElementNS(NS,'path');e.setAttribute('d',d);e.setAttribute('fill','none');e.setAttribute('stroke','#000');e.setAttribute('stroke-width',w);(par||s).appendChild(e);}
function L(x1,y1,x2,y2,par){var l=document.createElementNS(NS,'line');l.setAttribute('x1',x1);l.setAttribute('y1',y1);l.setAttribute('x2',x2);l.setAttribute('y2',y2);par.appendChild(l);}
function zig(x0,x1,p,yt,yb,w){var d="M"+x0+" "+yb;for(var x=x0;x+p<=x1+0.01;x+=p){d+=" L"+(x+p/2).toFixed(2)+" "+yt+" L"+(x+p).toFixed(2)+" "+yb;}P(d,w);}
zig(167,360,5,136,167,1.2);zig(360,1050,10.3,136,167,1.2);zig(1050,1253,5,136,167,1.2);
zig(167,360,5,287,318,1.2);zig(360,1030,10.3,287,318,1.2);zig(1030,1222,5,287,318,1.2);
var hz=document.getElementById('headzz');
var d="";
for(var j=0;j<8;j++){var b=147+19.5*j;var t=b+10;d+="M"+b+" 917.5 L"+t+" 724.5 L"+(b+19.5)+" 917.5 ";}
P(d,1.8,hz);
var d2="";
for(var k=0;k<8;k++){var t=157+19.5*k;d2+="M"+(t-6)+" 791.5 L"+t+" 724.5 L"+(t+6)+" 791.5 ";}
for(var j=0;j<9;j++){var b=147+19.5*j;d2+="M"+(b-6)+" 850.4 L"+b+" 917.5 L"+(b+6)+" 850.4 ";}
P(d2,1.8,hz);
var hh=document.getElementById('headhatch');
for(var y=704;y<749;y+=4){L(127,Math.min(y+8,749),137.5,y,hh);}
for(var y=894;y<936;y+=4){L(127,Math.min(y+8,938),137.5,y,hh);}
var h=document.getElementById('hatch');
for(var c=440;c<700;c+=6){
 var X1=1190,Y1=c+38,X2=1228,Y2=c;
 if(Y2<492){X2=1228-(492-Y2);Y2=492;} if(Y1>646){X1=1190+(Y1-646);Y1=646;}
 if(X2>X1){L(X1,Y1,X2,Y2,h);}
}
var g=document.createElementNS(NS,'g');g.setAttribute('fill','#000');
var seed=7;function r(){seed=(seed*9301+49297)%233280;return seed/233280;}
for(var k=0;k<60;k++){var x=468+r()*146,y=752+r()*134;if(x>499&&x<584&&y>844)continue;var c=document.createElementNS(NS,'circle');c.setAttribute('cx',x);c.setAttribute('cy',y);c.setAttribute('r',0.5);g.appendChild(c);}
for(var k=0;k<30;k++){var x=470+r()*142,y=755+r()*128;if(x>499&&x<584&&y>844)continue;var t=document.createElementNS(NS,'path');t.setAttribute('d','M'+x+' '+y+' l3 0 l-1.5 -3 z');t.setAttribute('fill','none');t.setAttribute('stroke','#000');t.setAttribute('stroke-width','0.4');g.appendChild(t);}
s.appendChild(g);
})();
</script>
</svg>
</body></html>
